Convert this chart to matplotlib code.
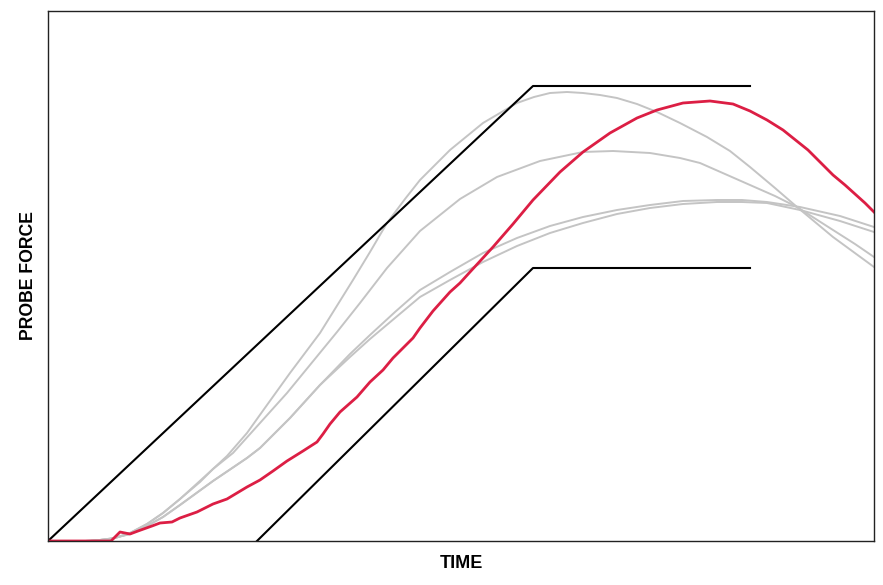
import matplotlib.pyplot as plt

plt.rcParams["font.family"] = ["Liberation Sans", "DejaVu Sans"]

# envelope lines (upper / lower limit)
upper_t = [0, 485, 702]
upper_f = [0, 455, 455]
lower_t = [209, 485, 702]
lower_f = [0, 273, 273]

# reference probe curves (gray)
ref_a_t = [0, 37, 52, 67, 82, 99, 115, 132, 152, 165, 179, 199, 219, 242, 272, 305, 322, 339,
           357, 372, 402, 435, 452, 469, 486, 502, 519, 535, 552, 569, 589, 609, 632, 659,
           682, 702, 727, 749, 785, 826]
ref_a_f = [0, 0, 1, 3, 8, 17, 28, 42, 59, 72, 85, 108, 136, 168, 208, 261, 289, 318,
           342, 361, 391, 418, 428, 438, 444, 448, 449, 448, 446, 443, 437, 429, 418, 404,
           390, 374, 353, 334, 304, 274]

ref_b_t = [0, 37, 52, 67, 82, 99, 115, 132, 165, 185, 212, 239, 289, 312, 339, 372, 412, 449,
           492, 535, 565, 602, 632, 652, 677, 702, 727, 749, 785, 807, 826]
ref_b_f = [0, 0, 1, 3, 8, 17, 28, 42, 72, 88, 118, 148, 209, 238, 273, 310, 342, 364,
           380, 389, 390, 388, 383, 378, 367, 356, 345, 334, 311, 297, 284]

ref_c_t = [0, 42, 62, 82, 99, 115, 132, 165, 199, 212, 242, 272, 302, 322, 347, 372, 402, 435,
           469, 502, 535, 569, 602, 635, 669, 694, 719, 752, 792, 826]
ref_c_f = [0, 0, 2, 7, 15, 24, 36, 60, 83, 93, 123, 156, 187, 206, 229, 251, 269, 288,
           303, 315, 324, 331, 336, 340, 341, 341, 339, 334, 325, 314]

ref_d_t = [0, 42, 62, 82, 99, 115, 132, 165, 199, 212, 242, 272, 302, 322, 347, 372, 402, 435,
           469, 502, 535, 569, 602, 635, 669, 694, 719, 752, 792, 826]
ref_d_f = [0, 0, 2, 7, 15, 24, 36, 60, 83, 93, 123, 156, 184, 202, 223, 244, 261, 279,
           295, 308, 318, 327, 333, 337, 339, 339, 338, 331, 320, 309]

# measured curve (red)
meas_t = [0, 63, 72, 82, 90, 104, 112, 124, 132, 149, 165, 179, 189, 199, 212, 225, 239, 255,
          269, 275, 282, 292, 309, 322, 335, 345, 365, 372, 385, 402, 412, 422, 445, 465,
          485, 512, 535, 562, 589, 609, 635, 662, 685, 702, 719, 735, 760, 772, 785, 797,
          807, 817, 826]
meas_f = [0, 0, 9, 7, 10, 15, 18, 19, 23, 29, 37, 42, 48, 54, 61, 70, 80, 90,
          99, 107, 117, 129, 144, 159, 171, 183, 203, 213, 230, 249, 258, 269, 294, 317,
          341, 369, 389, 408, 423, 431, 438, 440, 437, 430, 421, 411, 391, 379, 366, 356,
          347, 338, 329]

fig = plt.figure(figsize=(8.83, 5.85), dpi=100)
ax = fig.add_axes([48 / 883, 44 / 585, 826 / 883, 530 / 585])

gray = "#c4c4c4"
for t, f in [(ref_a_t, ref_a_f), (ref_b_t, ref_b_f), (ref_c_t, ref_c_f), (ref_d_t, ref_d_f)]:
    ax.plot(t, f, color=gray, linewidth=1.4, solid_joinstyle="round")

ax.plot(upper_t, upper_f, color="black", linewidth=1.5)
ax.plot(lower_t, lower_f, color="black", linewidth=1.5)
ax.plot(meas_t, meas_f, color="#dc1e44", linewidth=2.0, solid_joinstyle="round")

ax.set_xlim(0, 826)
ax.set_ylim(0, 530)
ax.set_xticks([])
ax.set_yticks([])
for sp in ax.spines.values():
    sp.set_color("#222222")
    sp.set_linewidth(1.0)

ax.set_xlabel("TIME", fontsize=13, fontweight="bold", labelpad=10)
ax.set_ylabel("PROBE FORCE", fontsize=12.7, fontweight="bold", labelpad=8)

fig.savefig("out.png", dpi=100, facecolor="white")
